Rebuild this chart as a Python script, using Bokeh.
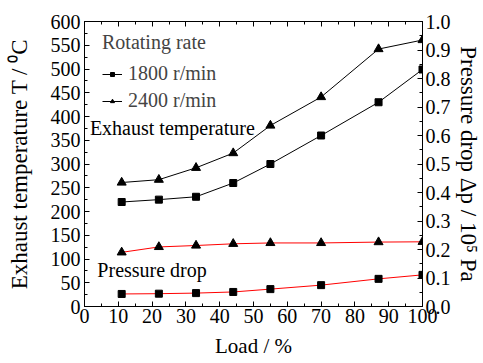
from bokeh.plotting import figure
from bokeh.models import (Range1d, LinearAxis, SingleIntervalTicker, PrintfTickFormatter,
                          CustomJSTickFormatter, Legend, LegendItem, Label)
from bokeh.embed import file_html
from bokeh.resources import INLINE

# ---- data ----
load = [11, 22, 33, 44, 55, 70, 87, 100]
temp_1800 = [220, 225, 231, 260, 300, 360, 430, 499]
temp_2400 = [261, 267, 292, 323, 381, 441, 542, 561]
dp_1800 = [0.044, 0.045, 0.047, 0.051, 0.061, 0.075, 0.097, 0.111]
dp_2400 = [0.190, 0.209, 0.214, 0.220, 0.223, 0.223, 0.226, 0.227]

FONT = "Liberation Serif"
FS = "20px"
FS_AX = "23px"

p = figure(width=483, height=363, output_backend="svg", toolbar_location=None,
           x_range=Range1d(0, 100), y_range=Range1d(0, 600),
           min_border_left=84, min_border_right=58, min_border_top=21, min_border_bottom=57)
p.extra_y_ranges = {"dp": Range1d(0, 1.0)}
p.xgrid.visible = False
p.ygrid.visible = False
p.outline_line_color = "black"
p.outline_line_width = 1
p.background_fill_color = "white"
p.border_fill_color = "white"

def style_axis(ax):
    ax.major_tick_in = 5
    ax.major_tick_out = 0
    ax.minor_tick_in = 3
    ax.minor_tick_out = 0
    ax.axis_line_color = "black"
    ax.major_tick_line_color = "black"
    ax.minor_tick_line_color = "black"
    ax.major_label_text_font = FONT
    ax.major_label_text_font_size = FS
    ax.major_label_text_color = "black"
    ax.axis_label_text_font = FONT
    ax.axis_label_text_font_size = FS_AX
    ax.axis_label_text_font_style = "normal"
    ax.axis_label_text_color = "black"

xax = p.xaxis[0]
xax.ticker = SingleIntervalTicker(interval=10, num_minor_ticks=2)
xax.axis_label = "Load / %"
style_axis(xax)
xax.axis_label_text_font_size = "21px"
xax.major_label_standoff = 2
xax.axis_label_standoff = 8

yax = p.yaxis[0]
yax.ticker = SingleIntervalTicker(interval=50, num_minor_ticks=2)
yax.axis_label = "Exhaust temperature T / \u2070C"
style_axis(yax)
yax.major_label_standoff = 4
yax.axis_label_standoff = 16

rax = LinearAxis(y_range_name="dp", axis_label="Pressure drop \u0394p / 10\u2075 Pa",
                 ticker=SingleIntervalTicker(interval=0.1, num_minor_ticks=2),
                 formatter=PrintfTickFormatter(format="%.1f"))
style_axis(rax)
rax.major_label_standoff = 3
rax.axis_label_standoff = 2
p.add_layout(rax, "right")

tax = LinearAxis(ticker=SingleIntervalTicker(interval=10, num_minor_ticks=2),
                 formatter=CustomJSTickFormatter(code="return ''"))
style_axis(tax)
tax.major_label_standoff = 0
p.add_layout(tax, "above")

# exhaust temperature lines
l1 = p.line(load, temp_1800, line_color="black", line_width=1)
s1 = p.scatter(load, temp_1800, marker="square", size=7, fill_color="black", line_color="black")
l2 = p.line(load, temp_2400, line_color="black", line_width=1)
s2 = p.scatter(load, temp_2400, marker="triangle", size=9, fill_color="black", line_color="black")

# pressure drop lines
p.line(load, dp_1800, line_color="red", line_width=1, y_range_name="dp")
p.scatter(load, dp_1800, marker="square", size=7, fill_color="black", line_color="black", y_range_name="dp")
p.line(load, dp_2400, line_color="red", line_width=1, y_range_name="dp")
p.scatter(load, dp_2400, marker="triangle", size=9, fill_color="black", line_color="black", y_range_name="dp")

legend = Legend(items=[LegendItem(label="1800 r/min", renderers=[l1, s1]),
                       LegendItem(label="2400 r/min", renderers=[l2, s2])],
                location=(18, 194), title="Rotating rate",
                title_text_font=FONT, title_text_font_size=FS, title_text_font_style="normal",
                label_text_font=FONT, label_text_font_size=FS,
                border_line_color=None, background_fill_alpha=0,
                padding=2, margin=0, spacing=4, glyph_width=20, glyph_height=10,
                label_height=20, label_standoff=6, title_standoff=8)
p.add_layout(legend, "center")

p.add_layout(Label(x=1.6, y=375, text="Exhaust temperature", text_font=FONT,
                   text_font_size=FS, text_baseline="middle", text_color="black"))
p.add_layout(Label(x=3.8, y=77, text="Pressure drop", text_font=FONT,
                   text_font_size=FS, text_baseline="middle", text_color="black"))

open("out.html", "w").write(file_html(p, INLINE))
